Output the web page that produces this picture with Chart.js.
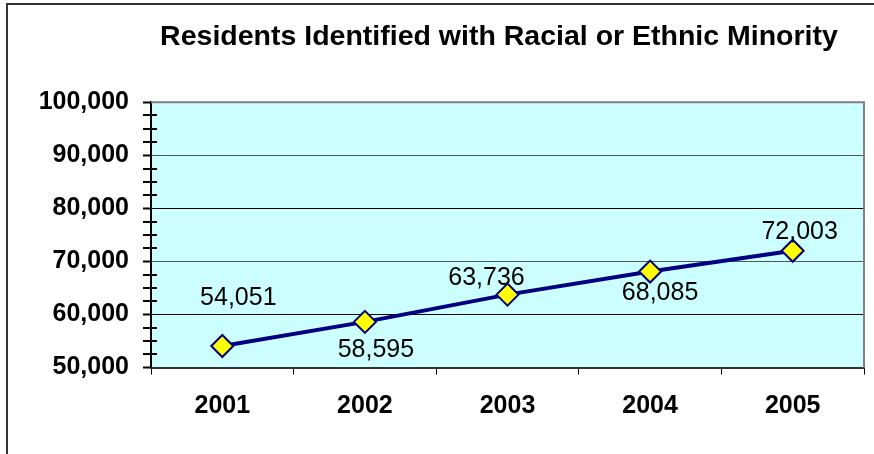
<!DOCTYPE html>
<html>
<head>
<title>Residents Identified with Racial or Ethnic Minority</title>
<script src="https://cdn.jsdelivr.net/npm/chart.js"></script>
<style>
  html, body { margin: 0; padding: 0; background: #fff; overflow: hidden; }
  /* outer chart frame, runs past the right/bottom edge of the window */
  #frame { position: absolute; left: 6px; top: 3px; width: 1000px; height: 520px; border: 2px solid #333; }
  #wrap { position: absolute; left: 0; top: 0; width: 998px; height: 454px; }
</style>
</head>
<body>
<div id="frame"></div>
<div id="wrap"><canvas id="chart"></canvas></div>
<script>
const years = ['2001', '2002', '2003', '2004', '2005'];
const residents = [54051, 58595, 63736, 68085, 72003];
const yTicks = [50000, 60000, 70000, 80000, 90000, 100000];

const FONT = "'Liberation Sans', Arial, Helvetica, sans-serif";
const fmt = v => v.toLocaleString('en-US');

// light cyan plot area with grey top/right edge
const plotBackground = {
  id: 'plotBackground',
  beforeDraw(chart) {
    const { ctx, chartArea: a } = chart;
    ctx.save();
    ctx.fillStyle = '#CCFFFF';
    ctx.fillRect(a.left, a.top, a.right - a.left, a.bottom - a.top);
    ctx.restore();
  },
  beforeDatasetsDraw(chart) {
    const { ctx, chartArea: a } = chart;
    ctx.save();
    ctx.strokeStyle = '#808080';
    ctx.lineWidth = 2;
    ctx.beginPath();
    ctx.moveTo(a.left, a.top);
    ctx.lineTo(a.right, a.top);
    ctx.lineTo(a.right, a.bottom);
    ctx.stroke();
    ctx.restore();
  }
};

// minor tick marks crossing the value axis
const minorTicks = {
  id: 'minorTicks',
  afterDraw(chart) {
    const y = chart.scales.y;
    const ctx = chart.ctx;
    const x0 = y.right;
    ctx.save();
    ctx.strokeStyle = '#000';
    ctx.lineWidth = 2;
    ctx.beginPath();
    for (let v = yTicks[0]; v < yTicks[yTicks.length - 1]; v += 2500) {
      if (v % 10000 === 0) continue;
      const py = Math.round(y.getPixelForValue(v));
      ctx.moveTo(x0 - 8, py);
      ctx.lineTo(x0 + 6, py);
    }
    ctx.stroke();
    ctx.restore();
  }
};

// value labels next to each marker
const valueLabels = {
  id: 'valueLabels',
  afterDatasetsDraw(chart, args, opts) {
    const ctx = chart.ctx;
    const meta = chart.getDatasetMeta(0);
    ctx.save();
    ctx.font = opts.size + 'px ' + FONT;
    ctx.fillStyle = '#000';
    ctx.textAlign = 'center';
    ctx.textBaseline = 'alphabetic';
    meta.data.forEach((pt, i) => {
      const [dx, dy] = opts.offsets[i];
      ctx.fillText(fmt(residents[i]), pt.x + dx, pt.y + dy + opts.size * 0.358);
    });
    ctx.restore();
  }
};

const gridColors = { 100000: '#808080', 90000: '#555', 80000: '#000', 70000: '#555', 60000: '#000', 50000: 'rgba(0,0,0,0)' };

new Chart(document.getElementById('chart'), {
  type: 'line',
  data: {
    labels: years,
    datasets: [{
      data: residents,
      borderColor: '#000080',
      borderWidth: 4,
      tension: 0,
      pointStyle: 'rectRot',
      pointRadius: 11,
      pointBackgroundColor: '#FFFF00',
      pointBorderColor: '#000080',
      pointBorderWidth: 2
    }]
  },
  options: {
    responsive: true,
    maintainAspectRatio: false,
    animation: false,
    layout: { padding: 0 },
    plugins: {
      legend: { display: false },
      tooltip: { enabled: false },
      title: {
        display: true,
        text: 'Residents Identified with Racial or Ethnic Minority',
        color: '#000',
        font: { family: FONT, size: 28.5, weight: 'bold' },
        padding: { top: 20, bottom: 48 }
      },
      valueLabels: {
        size: 25,
        offsets: [[16, -50], [11, 26], [-21, -19], [10, 20], [7, -21]]
      }
    },
    scales: {
      x: {
        type: 'category',
        offset: true,
        afterFit(scale) { scale.height = 86.5; },
        grid: { offset: true, drawOnChartArea: false, tickLength: 7, tickColor: '#000', tickWidth: 1 },
        border: { color: '#333', width: 2 },
        ticks: { color: '#000', padding: 17, font: { family: FONT, size: 25, weight: 'bold' } }
      },
      y: {
        min: yTicks[0],
        max: yTicks[yTicks.length - 1],
        afterFit(scale) { scale.width = 151; },
        afterBuildTicks(scale) { scale.ticks = yTicks.map(v => ({ value: v })); },
        grid: {
          color: ctx => gridColors[ctx.tick.value] || '#000',
          lineWidth: 1,
          tickLength: 8,
          tickColor: '#000',
          tickWidth: 2
        },
        border: { color: '#000', width: 2 },
        ticks: {
          color: '#000',
          padding: 14,
          font: { family: FONT, size: 25, weight: 'bold' },
          callback: v => fmt(v)
        }
      },
      // empty right-hand box: reserves the frame space right of the plot
      spacer: {
        type: 'linear',
        position: 'right',
        display: true,
        afterFit(scale) { scale.width = 134; },
        grid: { display: false, drawTicks: false },
        border: { display: false },
        ticks: { display: false }
      }
    }
  },
  plugins: [plotBackground, minorTicks, valueLabels]
});
</script>
</body>
</html>
